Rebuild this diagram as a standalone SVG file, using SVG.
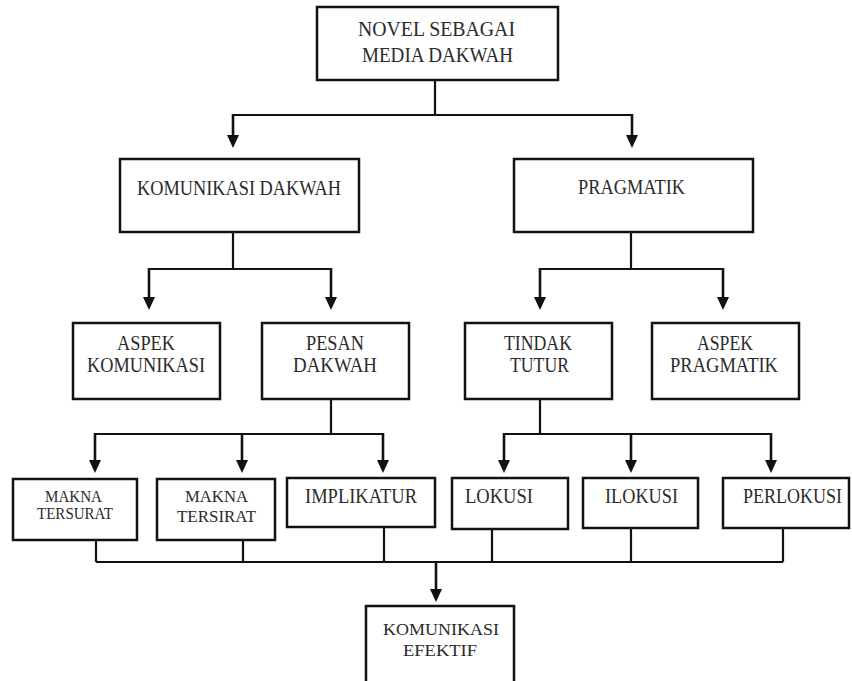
<svg xmlns="http://www.w3.org/2000/svg" width="852" height="681" viewBox="0 0 852 681">
  <defs>
    <style>
      .box { fill: #ffffff; stroke: #111111; stroke-width: 2.5; }
      .lbl { font-family: "Liberation Serif", "Times New Roman", serif; font-size: 20px; fill: #2b2b2b; text-anchor: middle; }
      .sm { font-size: 16px; }
      .md { font-size: 17.5px; }
      .ln { fill: none; stroke: #111111; stroke-width: 2.2; }
      .ar { fill: none; stroke: #111111; stroke-width: 2.6; }
      .hd { fill: #111111; }
    </style>
  </defs>
  <rect width="852" height="681" fill="#ffffff"/>

  <g id="connectors">
    <!-- top level -->
    <path class="ln" d="M435,80 V115 M233,115 H632"/>
    <line class="ar" x1="233" y1="114" x2="233" y2="137"/>
    <path class="hd" d="M227,135 L239,135 L233,148 Z"/>
    <line class="ar" x1="632" y1="114" x2="632" y2="137"/>
    <path class="hd" d="M626,135 L638,135 L632,148 Z"/>
    <!-- komunikasi dakwah -->
    <path class="ln" d="M233,232 V269 M149,269 H332"/>
    <line class="ar" x1="149" y1="268" x2="149" y2="298"/>
    <path class="hd" d="M143,297 L155,297 L149,310 Z"/>
    <line class="ar" x1="331" y1="268" x2="331" y2="298"/>
    <path class="hd" d="M325,297 L337,297 L331,310 Z"/>
    <!-- pragmatik -->
    <path class="ln" d="M631,232 V269 M540,269 H724"/>
    <line class="ar" x1="540" y1="268" x2="540" y2="298"/>
    <path class="hd" d="M534,297 L546,297 L540,310 Z"/>
    <line class="ar" x1="723" y1="268" x2="723" y2="298"/>
    <path class="hd" d="M717,297 L729,297 L723,310 Z"/>
    <!-- pesan dakwah -->
    <path class="ln" d="M331,399 V434 M95,434 H383"/>
    <line class="ar" x1="95" y1="433" x2="95" y2="461"/>
    <path class="hd" d="M89,460 L101,460 L95,473 Z"/>
    <line class="ar" x1="242" y1="433" x2="242" y2="461"/>
    <path class="hd" d="M236,460 L248,460 L242,473 Z"/>
    <line class="ar" x1="383" y1="433" x2="383" y2="461"/>
    <path class="hd" d="M377,460 L389,460 L383,473 Z"/>
    <!-- tindak tutur -->
    <path class="ln" d="M540,399 V434 M504,434 H771"/>
    <line class="ar" x1="504" y1="433" x2="504" y2="461"/>
    <path class="hd" d="M498,460 L510,460 L504,473 Z"/>
    <line class="ar" x1="631" y1="433" x2="631" y2="461"/>
    <path class="hd" d="M625,460 L637,460 L631,473 Z"/>
    <line class="ar" x1="771" y1="433" x2="771" y2="461"/>
    <path class="hd" d="M765,460 L777,460 L771,473 Z"/>
    <!-- bottom merge -->
    <path class="ln" d="M96,540 V562 M243,540 V562 M384,527 V562 M492,529 V562 M631,528 V562 M783,528 V562 M96,562 H783"/>
    <line class="ar" x1="436" y1="562" x2="436" y2="590"/>
    <path class="hd" d="M430,589 L442,589 L436,602 Z"/>
  </g>

  <g id="node-novel">
    <rect class="box" x="317" y="7" width="241" height="73"/>
    <text class="lbl" x="436.5" y="36" textLength="157" lengthAdjust="spacingAndGlyphs">NOVEL SEBAGAI</text>
    <text class="lbl" x="437.5" y="62" textLength="151" lengthAdjust="spacingAndGlyphs">MEDIA DAKWAH</text>
  </g>
  <g id="node-komunikasi-dakwah">
    <rect class="box" x="120" y="159" width="239" height="73"/>
    <text class="lbl" x="239" y="195" textLength="204" lengthAdjust="spacingAndGlyphs">KOMUNIKASI DAKWAH</text>
  </g>
  <g id="node-pragmatik">
    <rect class="box" x="514" y="159" width="239" height="73"/>
    <text class="lbl" x="631.5" y="194" textLength="107" lengthAdjust="spacingAndGlyphs">PRAGMATIK</text>
  </g>
  <g id="node-aspek-komunikasi">
    <rect class="box" x="73" y="323" width="147" height="76"/>
    <text class="lbl" x="146" y="350" textLength="58" lengthAdjust="spacingAndGlyphs">ASPEK</text>
    <text class="lbl" x="146" y="372" textLength="118" lengthAdjust="spacingAndGlyphs">KOMUNIKASI</text>
  </g>
  <g id="node-pesan-dakwah">
    <rect class="box" x="262" y="323" width="147" height="76"/>
    <text class="lbl" x="335" y="350" textLength="58" lengthAdjust="spacingAndGlyphs">PESAN</text>
    <text class="lbl" x="335" y="372" textLength="84" lengthAdjust="spacingAndGlyphs">DAKWAH</text>
  </g>
  <g id="node-tindak-tutur">
    <rect class="box" x="465" y="323" width="147" height="76"/>
    <text class="lbl" x="538" y="350" textLength="68" lengthAdjust="spacingAndGlyphs">TINDAK</text>
    <text class="lbl" x="539.5" y="372" textLength="59" lengthAdjust="spacingAndGlyphs">TUTUR</text>
  </g>
  <g id="node-aspek-pragmatik">
    <rect class="box" x="652" y="323" width="147" height="76"/>
    <text class="lbl" x="725" y="350" textLength="56" lengthAdjust="spacingAndGlyphs">ASPEK</text>
    <text class="lbl" x="724" y="372" textLength="108" lengthAdjust="spacingAndGlyphs">PRAGMATIK</text>
  </g>
  <g id="node-makna-tersurat">
    <rect class="box" x="13" y="479" width="124" height="61"/>
    <text class="lbl sm" x="73.5" y="502" textLength="57" lengthAdjust="spacingAndGlyphs">MAKNA</text>
    <text class="lbl sm" x="75" y="519" textLength="76" lengthAdjust="spacingAndGlyphs">TERSURAT</text>
  </g>
  <g id="node-makna-tersirat">
    <rect class="box" x="157" y="479" width="118" height="61"/>
    <text class="lbl md" x="216.5" y="502" textLength="63" lengthAdjust="spacingAndGlyphs">MAKNA</text>
    <text class="lbl md" x="216.5" y="522" textLength="79" lengthAdjust="spacingAndGlyphs">TERSIRAT</text>
  </g>
  <g id="node-implikatur">
    <rect class="box" x="287" y="478" width="148" height="49"/>
    <text class="lbl" x="361" y="503" textLength="112" lengthAdjust="spacingAndGlyphs">IMPLIKATUR</text>
  </g>
  <g id="node-lokusi">
    <rect class="box" x="452" y="478" width="116" height="51"/>
    <text class="lbl" x="499" y="503" textLength="68" lengthAdjust="spacingAndGlyphs">LOKUSI</text>
  </g>
  <g id="node-ilokusi">
    <rect class="box" x="583" y="478" width="115" height="50"/>
    <text class="lbl" x="641.5" y="503" textLength="73" lengthAdjust="spacingAndGlyphs">ILOKUSI</text>
  </g>
  <g id="node-perlokusi">
    <rect class="box" x="723" y="478" width="126" height="50"/>
    <text class="lbl" x="792.5" y="503" textLength="99" lengthAdjust="spacingAndGlyphs">PERLOKUSI</text>
  </g>
  <g id="node-komunikasi-efektif">
    <rect class="box" x="366" y="606" width="148" height="90"/>
    <text class="lbl md" x="441" y="635" textLength="116" lengthAdjust="spacingAndGlyphs">KOMUNIKASI</text>
    <text class="lbl md" x="440" y="656" textLength="74" lengthAdjust="spacingAndGlyphs">EFEKTIF</text>
  </g>
</svg>
